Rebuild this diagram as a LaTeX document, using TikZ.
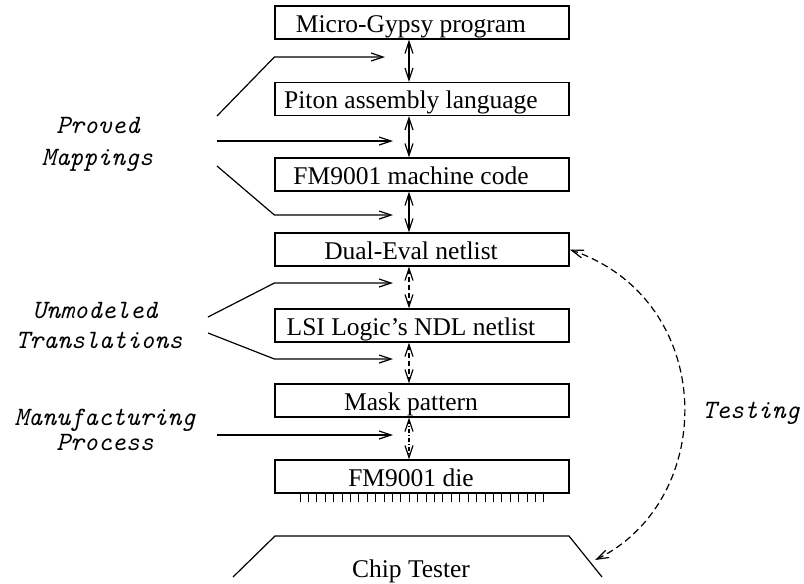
\documentclass[tikz,border=0pt]{standalone}
\usepackage{fontspec}
\setmainfont{Liberation Serif}
\usetikzlibrary{arrows.meta}

\tikzset{
  stage/.style={draw,line width=1.2pt,minimum width=294pt,minimum height=33pt,inner sep=0pt,
    text height=19pt,text depth=0pt,
    font=\fontsize{25.5}{29}\selectfont,execute at end node=\hspace*{22pt}},
  note/.style={font=\fontsize{26.5}{30}\selectfont\ttfamily\itshape,anchor=base,inner sep=0pt},
  link/.style={line width=1.2pt,-{Straight Barb[length=12pt,width=8pt]}},
  both/.style={line width=1.2pt,{Straight Barb[length=12pt,width=8pt]}-{Straight Barb[length=12pt,width=8pt]}},
}

\begin{document}
\begin{tikzpicture}[x=1pt,y=-1pt]
  \useasboundingbox (0,0) rectangle (804,584);
  % the levels
  \node[stage] (gypsy) at (422,22.5) {Micro-Gypsy program};
  \node[stage] (piton) at (422,99) {Piton assembly language};
  \node[stage] (code) at (422,174.5) {FM9001 machine code};
  \node[stage] (dual) at (422,249.5) {Dual-Eval netlist};
  \node[stage] (ndl) at (422,325.5) {LSI Logic's NDL netlist};
  \node[stage] (mask) at (422,400.5) {Mask pattern};
  \node[stage] (die) at (422,476.5) {FM9001 die};
  \foreach \i in {0,...,29} \draw[line width=1pt] ({300+8.41*\i},493) -- ++(0,9);
  % tester
  \draw[line width=1.2pt] (233,577) -- (275,536) -- (569,536) -- (602,577);
  \node[anchor=base,inner sep=0pt,font=\fontsize{25.5}{29}\selectfont] (tester) at (411,577) {Chip Tester};
  % spine
  \coordinate (spine) at (409,0);
  \draw[both] (gypsy.south -| spine) -- (piton.north -| spine);
  \draw[both] (piton.south -| spine) -- (code.north -| spine);
  \draw[both] (code.south -| spine) -- (dual.north -| spine);
  \draw[both,dash pattern=on 5pt off 3pt] (dual.south -| spine) -- (ndl.north -| spine);
  \draw[both,dash pattern=on 5pt off 3pt] (ndl.south -| spine) -- (mask.north -| spine);
  \draw[both,dash pattern=on 4pt off 2pt on 1pt off 2pt] (mask.south -| spine) -- (die.north -| spine);
  % labels
  \node[note] (proved) at (98,133) {Proved};
  \node[note] (mappings) at (97.5,165) {Mappings};
  \node[note] (unmodeled) at (95,318) {Unmodeled};
  \node[note] (translations) at (99,348) {Translations};
  \node[note] (manufacturing) at (105,425) {Manufacturing};
  \node[note] (process) at (105,450) {Process};
  \node[note] (testing) at (751,418) {Testing};
  % mappings
  \coordinate (pmA) at (217,116);
  \coordinate (pmB) at (217,141);
  \coordinate (pmC) at (217,166);
  \coordinate (toPiton) at (385,57);
  \coordinate (toCode) at (393,141);
  \coordinate (toDual) at (393,215);
  \draw[link] (pmA) -- (toPiton -| piton.west) -- (toPiton);
  \draw[link] (pmB) -- (toCode);
  \draw[link] (pmC) -- (toDual -| dual.west) -- (toDual);
  % translations
  \coordinate (umA) at (208,317);
  \coordinate (umB) at (208,333);
  \coordinate (toNdl) at (393,283);
  \coordinate (toMask) at (393,359);
  \draw[link] (umA) -- (toNdl -| ndl.west) -- (toNdl);
  \draw[link] (umB) -- (toMask -| mask.west) -- (toMask);
  % process
  \coordinate (mpA) at (217,435);
  \coordinate (toDie) at (393,435);
  \draw[link] (mpA) -- (toDie);
  % testing
  \coordinate (probe) at (595,560);
  \draw[both,dash pattern=on 7pt off 4pt] (probe) .. controls (718,500) and (718,300) .. (dual.east);
\end{tikzpicture}
\end{document}
